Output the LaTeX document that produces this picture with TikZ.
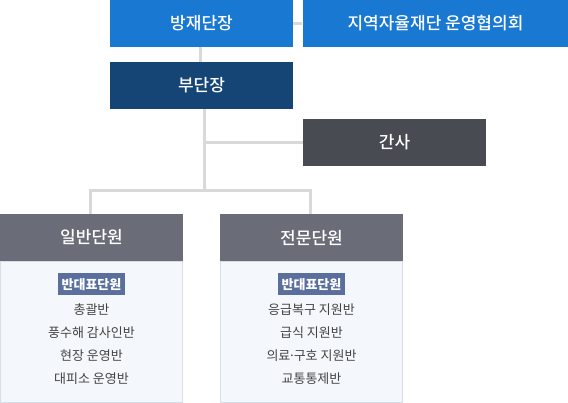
\documentclass[tikz,border=0pt]{standalone}
\usepackage{fontspec}
\setmainfont{Noto Sans CJK KR}
\newfontfamily\medio{Noto Sans CJK KR Medium}
\usetikzlibrary{positioning}
\definecolor{azul}{HTML}{1878D2}
\definecolor{marinho}{HTML}{154574}
\definecolor{grafite}{HTML}{484B51}
\definecolor{cinza}{HTML}{6A6D78}
\definecolor{etiqueta}{HTML}{5B6F9C}
\definecolor{fundo}{HTML}{F4F7FB}
\definecolor{borda}{HTML}{D8DEE6}
\definecolor{linha}{HTML}{D9D9D9}
\definecolor{texto}{HTML}{444444}
\begin{document}
\begin{tikzpicture}[x=1pt, y=-1pt,
    caixa/.style={rectangle, inner sep=0pt, text=white, font=\medio\fontsize{17}{20}\selectfont, minimum height=47pt},
    corpo/.style={draw=borda, fill=fundo, rectangle, inner sep=0pt, minimum width=182pt, minimum height=141pt},
    rotulo/.style={fill=etiqueta, text=white, inner xsep=4pt, minimum height=22pt, font=\fontsize{13}{15}\selectfont\bfseries},
    lista/.style={align=center, text=texto, inner sep=0pt, font=\fontsize{13}{23}\selectfont},
    conector/.style={draw=linha, line width=3pt}]
\useasboundingbox (0,0) rectangle (568,403);
\node[caixa, fill=azul, minimum width=183pt] (chefe) at (201.5,23.5) {방재단장};
\node[caixa, fill=azul, minimum width=266pt] (conselho) at (435.5,23.5) {지역자율재단 운영협의회};
\node[caixa, fill=marinho, minimum width=183pt] (vice) at (201.5,85.5) {부단장};
\node[caixa, fill=grafite, minimum width=183pt] (secretario) at (394.5,142.5) {간사};
% unidades
\node[caixa, fill=cinza, minimum width=183pt] (geral) at (91.5,237.5) {일반단원};
\node[caixa, fill=cinza, minimum width=183pt] (especial) at (311.5,237.5) {전문단원};
\node[corpo, below=0pt of geral] (geralcorpo) {};
\node[corpo, below=0pt of especial] (especialcorpo) {};
\node[rotulo, below=12pt of geral] (geraltag) {반대표단원};
\node[rotulo, below=12pt of especial] (especialtag) {반대표단원};
\node[lista, below=8pt of geraltag] (geralrol) {총괄반\\풍수해 감사인반\\현장 운영반\\대피소 운영반};
\node[lista, below=8pt of especialtag] (especialrol) {응급복구 지원반\\급식 지원반\\의료\kern-2pt·\kern-2pt구호 지원반\\교통통제반};
% ligacoes
\coordinate (tronco) at (204.5,190.5);
\draw[conector] (chefe.east) -- (conselho.west);
\draw[conector] ([xshift=-1pt]chefe.south) -- ([xshift=-1pt]vice.north);
\draw[conector] (vice.south -| tronco) -- (tronco);
\draw[conector] (tronco |- secretario.west) -- (secretario.west);
\draw[conector] ([xshift=-1.5pt]geral.north) |- (tronco) -| ([xshift=-1.5pt]especial.north);
\end{tikzpicture}
\end{document}
